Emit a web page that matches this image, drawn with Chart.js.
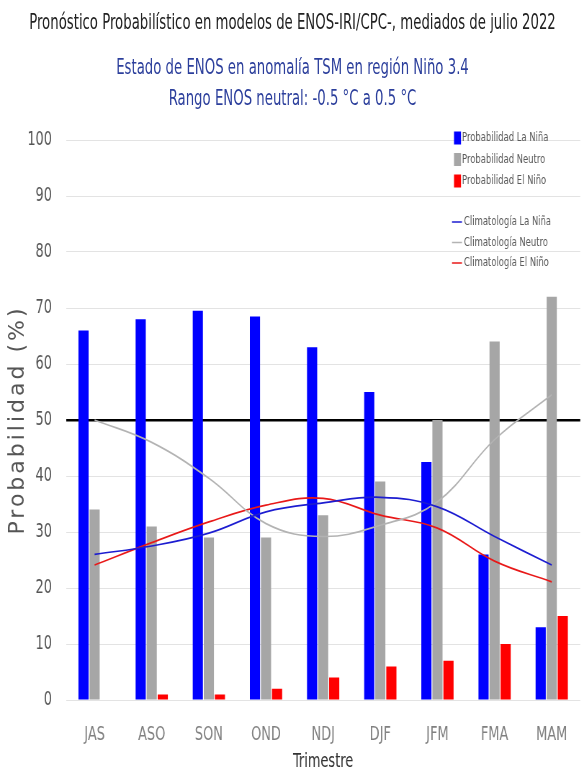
<!DOCTYPE html>
<html>
<head>
<meta charset="utf-8">
<script src="https://cdn.jsdelivr.net/npm/chart.js@4.4.1/dist/chart.umd.min.js"></script>
<style>
body{margin:0;background:#fff}
#wrap{position:relative;width:584px;height:776px;overflow:hidden}
.t{position:absolute;left:-113.5px;width:811px;text-align:center;font-family:"DejaVu Sans Condensed","DejaVu Sans",sans-serif;font-size:20.5px;line-height:24px;white-space:nowrap;transform:scaleX(.72);transform-origin:center}
#t1{top:10px;color:#222}
#t2{top:55px;color:#2c3f9c}
#t3{top:86px;color:#2c3f9c}
#enso{position:absolute;left:0;top:0;width:584px;height:776px}
</style>
</head>
<body>
<div id="wrap">
  <canvas id="enso" width="811" height="776" style="width:584px;height:776px"></canvas>
  <div class="t" id="t1">Pronóstico Probabilístico en modelos de ENOS-IRI/CPC-, mediados de julio 2022</div>
  <div class="t" id="t2">Estado de ENOS en anomalía TSM en región Niño 3.4</div>
  <div class="t" id="t3">Rango ENOS neutral: -0.5 °C a 0.5 °C</div>
</div>
<script>
const trimestres = ["JAS","ASO","SON","OND","NDJ","DJF","JFM","FMA","MAM"];

// probabilidades (%)
const probNina   = [66,68,69.5,68.5,63,55,42.5,26,13];
const probNeutro = [34,31,29,29,33,39,50,64,72];
const probNino   = [0,1,1,2,4,6,7,10,15];

// climatologia
const climNina   = [26,27.5,29.8,33.6,35.2,36.2,34.5,29.2,24.1];
const climNeutro = [50,46,39.6,31.5,29.2,31.2,35.4,46.5,54.5];
const climNino   = [24.1,28.1,31.8,34.8,36,33,30.7,24.8,21.1];

const yTicks = [0,10,20,30,40,50,60,70,80,90,100];

// el lienzo se dibuja mas ancho y se comprime en CSS (texto estrecho como el original)
const K = 584/811;
const px = v => v/K;
const cond = '"DejaVu Sans Condensed","DejaVu Sans",sans-serif';

const sideLegend = {
  id:"sideLegend",
  afterDraw(chart){
    const ctx = chart.ctx;
    ctx.save();
    ctx.font = "13px " + cond;
    ctx.textBaseline = "middle";
    chart.data.datasets.forEach((ds,i)=>{
      const y = i<3 ? 138 + i*21.5 : 222 + (i-3)*20.5;
      if(ds.type==="line"){
        ctx.strokeStyle = ds.borderColor; ctx.lineWidth = 1.5;
        ctx.beginPath(); ctx.moveTo(px(452),y); ctx.lineTo(px(462),y); ctx.stroke();
      } else {
        ctx.fillStyle = ds.backgroundColor;
        ctx.fillRect(px(454),y-6.5,px(7),13);
      }
      ctx.fillStyle = "#5a5a5a";
      ctx.fillText(ds.label, px(i<3?462:464), y);
    });
    ctx.restore();
  }
};

const yTitle = {
  id:"yTitle",
  afterDraw(chart){
    const ctx = chart.ctx, a = chart.chartArea;
    ctx.save();
    ctx.scale(1/K,1);
    ctx.translate(18,(a.top+a.bottom)/2);
    ctx.rotate(-Math.PI/2);
    ctx.font = '22px "DejaVu Sans",sans-serif';
    ctx.letterSpacing = "3px";
    ctx.fillStyle = "#555";
    ctx.textAlign = "center";
    ctx.textBaseline = "middle";
    ctx.fillText("Probabilidad (%)",0,0);
    ctx.restore();
  }
};

new Chart(document.getElementById("enso"),{
  data:{
    labels:trimestres,
    datasets:[
      {type:"bar",label:"Probabilidad La Niña",data:probNina,backgroundColor:"#0000ff",order:2},
      {type:"bar",label:"Probabilidad Neutro",data:probNeutro,backgroundColor:"#a6a6a6",order:2},
      {type:"bar",label:"Probabilidad El Niño",data:probNino,backgroundColor:"#ff0000",order:2},
      {type:"line",label:"Climatología La Niña",data:climNina,borderColor:"#1c1cd0",borderWidth:1.7,tension:.4,pointRadius:0,order:1},
      {type:"line",label:"Climatología Neutro",data:climNeutro,borderColor:"#b3b3b3",borderWidth:1.7,tension:.4,pointRadius:0,order:1},
      {type:"line",label:"Climatología El Niño",data:climNino,borderColor:"#e81818",borderWidth:1.7,tension:.4,pointRadius:0,order:1}
    ]
  },
  options:{
    responsive:false,
    animation:false,
    devicePixelRatio:1,
    layout:{padding:{top:140,right:px(2),left:0,bottom:0}},
    datasets:{bar:{categoryPercentage:.58,barPercentage:.92}},
    plugins:{legend:{display:false},tooltip:{enabled:false}},
    scales:{
      x:{
        grid:{display:false,drawTicks:false},
        border:{display:false},
        ticks:{color:"#808080",padding:23,font:{family:cond,size:20}},
        title:{display:true,text:"Trimestre",color:"#333",padding:{top:0,bottom:2},font:{family:cond,size:20}},
        afterFit(s){s.height=76}
      },
      y:{
        min:0,max:100,
        afterBuildTicks(s){s.ticks=yTicks.map(v=>({value:v}))},
        grid:{drawTicks:false,color:c=>c.tick.value===50?"#000":"#e3e3e3",lineWidth:c=>c.tick.value===50?2.5:1},
        border:{display:false},
        ticks:{color:"#555",padding:px(14),font:{family:cond,size:20}},
        afterFit(s){s.width=px(66)}
      }
    }
  },
  plugins:[sideLegend,yTitle]
});
</script>
</body>
</html>
